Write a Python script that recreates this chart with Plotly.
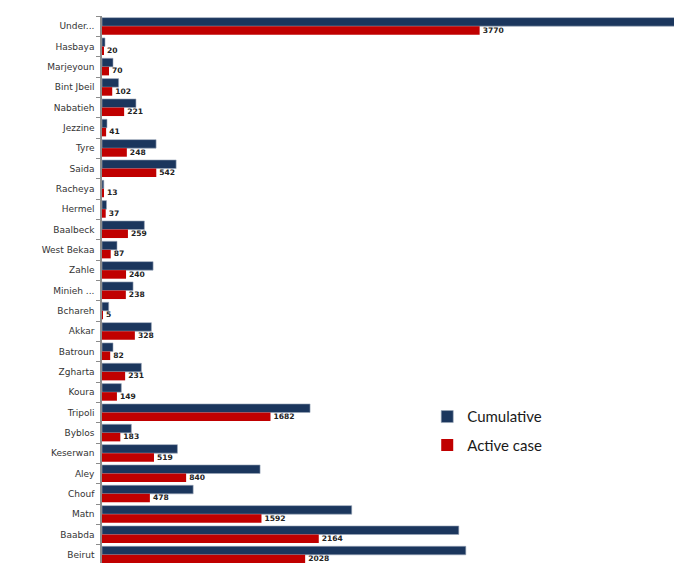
import plotly.graph_objects as go

districts = ["Under...", "Hasbaya", "Marjeyoun", "Bint Jbeil", "Nabatieh", "Jezzine", "Tyre",
             "Saida", "Racheya", "Hermel", "Baalbeck", "West Bekaa", "Zahle", "Minieh ...",
             "Bchareh", "Akkar", "Batroun", "Zgharta", "Koura", "Tripoli", "Byblos",
             "Keserwan", "Aley", "Chouf", "Matn", "Baabda", "Beirut"]

cumulative = [5776, 30, 110, 166, 339, 50, 540, 740, 18, 45, 423, 150, 510, 310,
              67, 493, 110, 393, 193, 2077, 293, 753, 1578, 910, 2493, 3562, 3632]

active = [3770, 20, 70, 102, 221, 41, 248, 542, 13, 37, 259, 87, 240, 238,
          5, 328, 82, 231, 149, 1682, 183, 519, 840, 478, 1592, 2164, 2028]

fig = go.Figure()
fig.add_trace(go.Bar(
    y=districts, x=cumulative, orientation="h", name="Cumulative",
    marker=dict(color="#1B365D", line=dict(color="#9AA6B8", width=0.6)),
    legendgroup="a",
))
fig.add_trace(go.Bar(
    y=districts, x=active, orientation="h", name="Active case",
    marker=dict(color="#C00000", line=dict(width=0)),
    text=active, texttemplate="<b>%{x}</b>", textposition="outside",
    textfont=dict(family="DejaVu Sans", size=8, color="#222222"),
    cliponaxis=False, legendgroup="b",
))

fig.update_layout(
    width=682, height=563,
    margin=dict(l=94, r=2, t=8, b=6),
    paper_bgcolor="white", plot_bgcolor="white",
    barmode="group", bargap=0.16, bargroupgap=0.0,
    showlegend=True,
    legend=dict(x=0.555, y=0.30, xanchor="left", yanchor="top",
                font=dict(family="Lato", size=15, color="#1a1a1a"),
                itemwidth=30,
                bgcolor="rgba(0,0,0,0)", traceorder="grouped", tracegroupgap=6),
    xaxis=dict(range=[0, 5850], showgrid=False, zeroline=False, showticklabels=False,
               showline=False, ticks="", automargin=False),
    yaxis=dict(autorange="reversed", showgrid=False, zeroline=False, automargin=False,
               showline=True, linecolor="#8c8c8c", linewidth=1.5,
               ticks="outside", tickson="boundaries", ticklen=4, tickcolor="#8c8c8c",
               ticklabelstandoff=4,
               tickfont=dict(family="DejaVu Sans", size=9, color="#333333")),
)

fig.write_html("out.html")
